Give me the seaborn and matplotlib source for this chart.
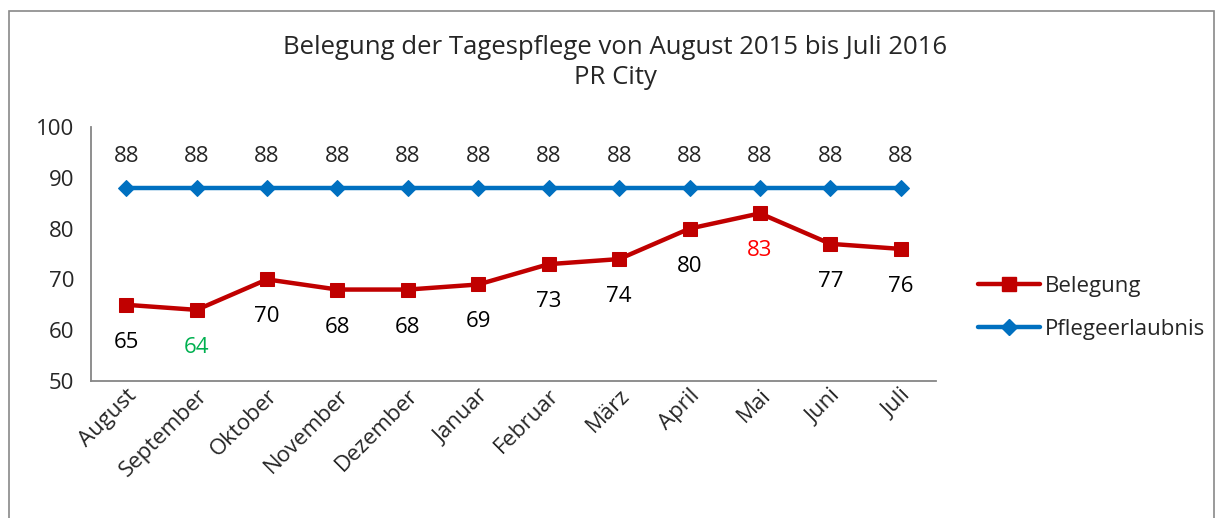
import numpy as np
import pandas as pd
import matplotlib.pyplot as plt
import seaborn as sns
from matplotlib.patches import Rectangle
from matplotlib.lines import Line2D

months = ['August', 'September', 'Oktober', 'November', 'Dezember', 'Januar',
          'Februar', 'März', 'April', 'Mai', 'Juni', 'Juli']
belegung = [65, 64, 70, 68, 68, 69, 73, 74, 80, 83, 77, 76]
pflegeerlaubnis = [88, 88, 88, 88, 88, 88, 88, 88, 88, 88, 88, 88]

df = pd.DataFrame({'Monat': months, 'Belegung': belegung, 'Pflegeerlaubnis': pflegeerlaubnis})
df['pos'] = range(len(months))

sns.set_style('white')
plt.rcParams['font.family'] = ['Open Sans', 'DejaVu Sans']
plt.rcParams['font.weight'] = 'medium'

fig = plt.figure(figsize=(12.23, 5.18), dpi=100)
ax = fig.add_axes([91 / 1223, 1 - 381 / 518, 845 / 1223, 254 / 518])

red = '#C00000'
blue = '#0070C0'
sns.lineplot(data=df, x='pos', y='Belegung', ax=ax, color=red, linewidth=3.2,
             marker='s', markersize=10, markeredgecolor=red)
sns.lineplot(data=df, x='pos', y='Pflegeerlaubnis', ax=ax, color=blue, linewidth=3.2,
             marker='D', markersize=8, markeredgecolor=blue)

ax.set_xlim(-0.5, len(months) - 0.5)
ax.set_ylim(50, 100)
ax.set_yticks(range(50, 101, 10))
ax.set_xticks(range(len(months)))
ax.set_xticklabels(months, rotation=45, ha='right', rotation_mode='anchor', fontsize=16)
ax.set_xticks(np.arange(-0.5, len(months), 1), minor=True)
ax.tick_params(axis='x', which='major', length=0, pad=3)
ax.tick_params(axis='x', which='minor', length=6, color='#868686', width=1.3, direction='out')
ax.tick_params(axis='y', length=6, color='#868686', width=1.3, direction='out', labelsize=16, pad=6)
ax.set_xlabel('')
ax.set_ylabel('')
for side in ['top', 'right']:
    ax.spines[side].set_visible(False)
for side in ['left', 'bottom']:
    ax.spines[side].set_color('#868686')
    ax.spines[side].set_linewidth(1.3)

# data labels
for i, v in enumerate(pflegeerlaubnis):
    ax.annotate(str(v), (i, v), xytext=(0, 23), textcoords='offset points',
                ha='center', va='center', fontsize=16)
for i, v in enumerate(belegung):
    col = 'black'
    if v == min(belegung):
        col = '#00B050'
    elif v == max(belegung):
        col = '#FF0000'
    ax.annotate(str(v), (i, v), xytext=(0, -27), textcoords='offset points',
                ha='center', va='center', fontsize=16, color=col)

fig.text(615 / 1223, 1 - 47 / 518, 'Belegung der Tagespflege von August 2015 bis Juli 2016',
         ha='center', va='center', fontsize=18.5)
fig.text(615 / 1223, 1 - 78 / 518, 'PR City', ha='center', va='center', fontsize=18.5)

handles = [Line2D([], [], color=red, linewidth=3.2, marker='s', markersize=10),
           Line2D([], [], color=blue, linewidth=3.2, marker='D', markersize=8)]
fig.legend(handles, ['Belegung', 'Pflegeerlaubnis'], loc='center left',
           bbox_to_anchor=(958 / 1223, 1 - 308 / 518), frameon=False, fontsize=16,
           handlelength=2.8, handletextpad=0.2, labelspacing=1.0)

fig.patches.append(Rectangle((9 / 1223, -0.05), 1205 / 1223, 1 - 11 / 518 + 0.05,
                             transform=fig.transFigure, fill=False,
                             edgecolor='#898989', linewidth=1.2))

fig.savefig('out.png', dpi=100)
